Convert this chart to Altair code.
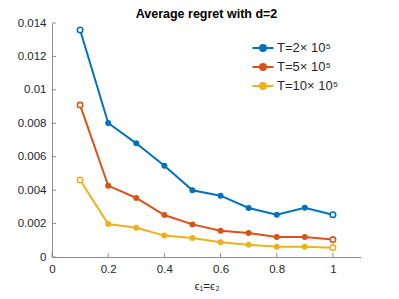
import altair as alt
import pandas as pd

eps = [0.1, 0.2, 0.3, 0.4, 0.5, 0.6, 0.7, 0.8, 0.9, 1.0]
series_names = ["T=2× 10⁵", "T=5× 10⁵", "T=10× 10⁵"]
t2 = [0.01358, 0.00802, 0.00680, 0.00546, 0.00399, 0.00367, 0.00293, 0.00253, 0.00295, 0.00253]
t5 = [0.00909, 0.00427, 0.00353, 0.00251, 0.00195, 0.00157, 0.00144, 0.00120, 0.00120, 0.00104]
t10 = [0.00461, 0.00197, 0.00175, 0.00128, 0.00114, 0.00088, 0.00074, 0.00062, 0.00062, 0.00056]
colors = ["#0072BD", "#D95319", "#EDB120"]
x_ticks = [0, 0.2, 0.4, 0.6, 0.8, 1.0]
y_ticks = [0, 0.002, 0.004, 0.006, 0.008, 0.01, 0.012, 0.014]
title_text = ["Average regret with d=2"]

rows = []
for i, (name, vals) in enumerate(zip(series_names, [t2, t5, t10])):
    for e, v in zip(eps, vals):
        rows.append({"eps": e, "regret": v, "series": name, "order": i,
                     "end": e in (eps[0], eps[-1])})
df = pd.DataFrame(rows)

W, H = 309, 234
FONT = "Liberation Sans"
AX = "#262626"
DOM = "#8c8c8c"

xscale = alt.Scale(domain=[0, 1.1], nice=False, zero=False)
yscale = alt.Scale(domain=[0, 0.014], nice=False)
cscale = alt.Scale(domain=series_names, range=colors)

x_axis = alt.Axis(values=x_ticks, title="ϵ₁=ϵ₂", grid=False, tickSize=0,
                  labelPadding=6, titlePadding=6, labelFontSize=11.5,
                  titleFontSize=11.5, titleFontWeight="normal",
                  domainColor=DOM, labelColor=AX, titleColor=AX,
                  labelFont=FONT, titleFont=FONT, labelFlush=False,
                  labelOverlap=False, labelExpr="format(datum.value, '~g')")
y_axis = alt.Axis(values=y_ticks, title=None, grid=False, tickSize=0,
                  labelPadding=6, labelFontSize=11.5, domainColor=DOM,
                  labelColor=AX, labelFont=FONT, labelFlush=False,
                  labelOverlap=False, labelExpr="format(datum.value, '~g')")

legend_path = "M-1.5,0L1.5,0M-0.43,0a0.43,0.43 0 1,0 0.86,0a0.43,0.43 0 1,0 -0.86,0"

base = alt.Chart(df)

lines = base.mark_line(strokeWidth=2).encode(
    x=alt.X("eps:Q", scale=xscale, axis=x_axis),
    y=alt.Y("regret:Q", scale=yscale, axis=y_axis),
    color=alt.Color("series:N", scale=cscale, sort=series_names,
                    legend=alt.Legend(title=None, orient="none", legendX=203, legendY=17,
                                      symbolType=legend_path, symbolSize=196,
                                      symbolStrokeWidth=2, labelFontSize=13,
                                      labelFont=FONT, labelColor=AX, rowPadding=3,
                                      labelOffset=6, symbolOffset=0)),
    detail="series:N",
)

filled_pts = base.transform_filter("!datum.end").mark_point(
    filled=True, size=36, opacity=1).encode(
    x=alt.X("eps:Q", scale=xscale, axis=x_axis),
    y=alt.Y("regret:Q", scale=yscale, axis=y_axis),
    color=alt.Color("series:N", scale=cscale, legend=None),
)

open_pts = base.transform_filter("datum.end").mark_point(
    filled=False, fill="white", fillOpacity=1, size=30, strokeWidth=1.6, opacity=1).encode(
    x=alt.X("eps:Q", scale=xscale, axis=x_axis),
    y=alt.Y("regret:Q", scale=yscale, axis=y_axis),
    color=alt.Color("series:N", scale=cscale, legend=None),
)

ytick_df = pd.DataFrame({"v": y_ticks})
xtick_df = pd.DataFrame({"v": x_ticks})
yticks = alt.Chart(ytick_df).mark_rule(color=DOM, strokeWidth=1).encode(
    y=alt.Y("v:Q", scale=yscale, axis=y_axis), x=alt.value(0), x2=alt.value(4))
xticks = alt.Chart(xtick_df).mark_rule(color=DOM, strokeWidth=1).encode(
    x=alt.X("v:Q", scale=xscale, axis=x_axis), y=alt.value(H), y2=alt.value(H - 4))

title_layer = alt.Chart(pd.DataFrame({"t": title_text})).mark_text(
    font=FONT, fontSize=12.5, fontWeight="bold", color="black",
    align="center", baseline="alphabetic").encode(
    text="t:N", x=alt.value(W / 2), y=alt.value(-5.5))

chart = alt.layer(lines, yticks, xticks, filled_pts, open_pts, title_layer).properties(
    width=W, height=H,
    autosize=alt.AutoSizeParams(type="none"),
    padding={"left": 44, "top": 15, "right": 30, "bottom": 42},
).configure_view(stroke=None)

chart.save("out.html", embed_options={"renderer": "svg", "actions": False})
